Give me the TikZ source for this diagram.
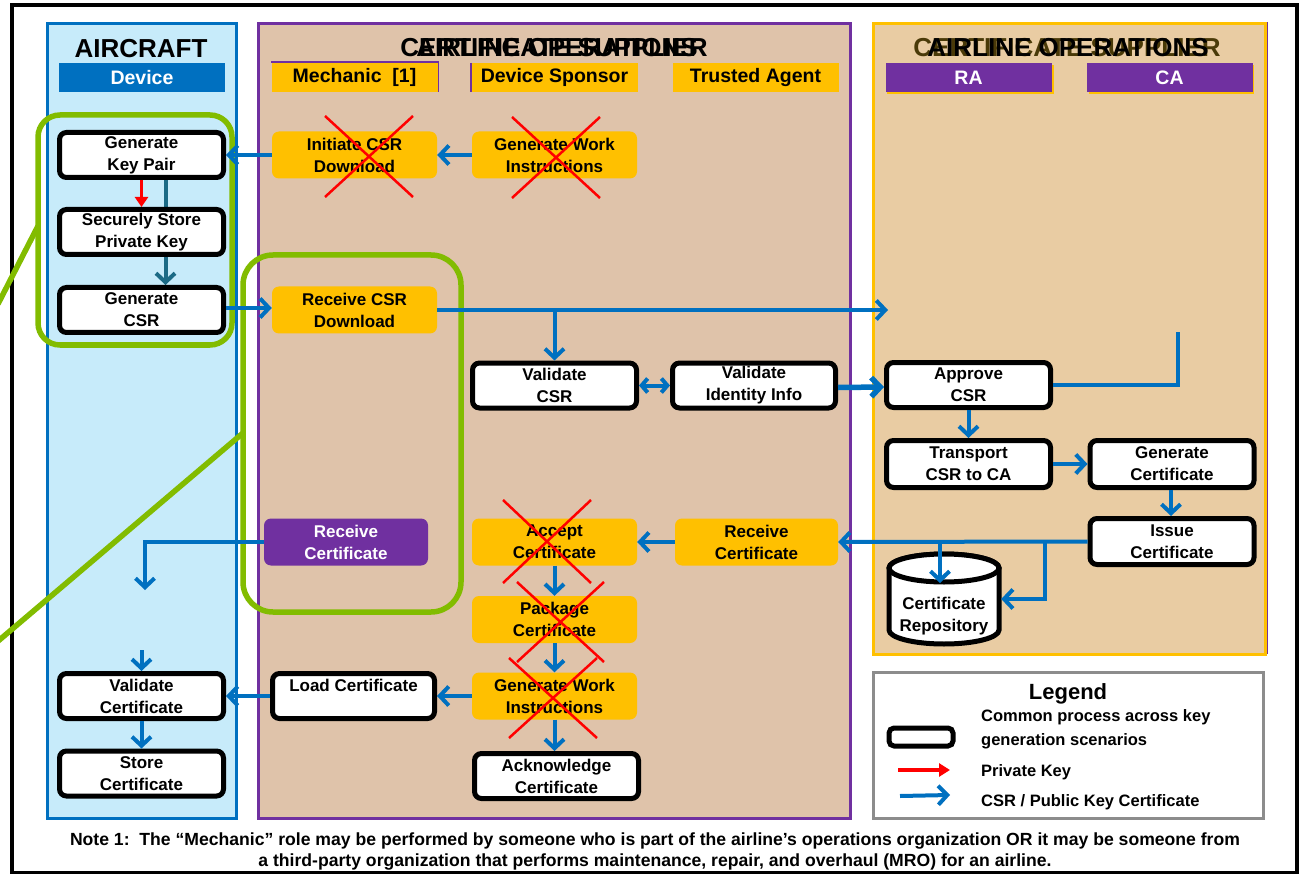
\documentclass[tikz,border=0pt]{standalone}
\usepackage{fontspec}
\setmainfont{Liberation Sans}
\usetikzlibrary{arrows.meta,shapes.geometric}
\pgfdeclarelayer{bg}
\pgfsetlayers{bg,main}
\definecolor{acfill}{HTML}{C7EBFA}
\definecolor{acblue}{HTML}{0070C0}
\definecolor{csfill}{HTML}{DFC3AA}
\definecolor{purp}{HTML}{7030A0}
\definecolor{aofill}{HTML}{E9CCA3}
\definecolor{gold}{HTML}{FFC000}
\definecolor{grn}{HTML}{82BC00}
\definecolor{tealc}{HTML}{1B6A85}
\definecolor{olive}{HTML}{4A3A08}
\definecolor{lgray}{HTML}{8C8C8C}
\tikzset{
  nf/.style={font=\bfseries\fontsize{17}{22}\selectfont},
  proc/.style={nf, draw=black, line width=5pt, fill=white, rounded corners=7pt,
    minimum width=164pt, minimum height=45pt, align=center, inner sep=0pt},
  obox/.style={nf, fill=gold, rounded corners=7pt, minimum width=165pt,
    minimum height=47pt, align=center, inner sep=0pt},
  pbox/.style={obox, fill=purp, text=white},
  rolebar/.style={font=\bfseries\fontsize{19.5}{22}\selectfont, fill=gold,
    minimum width=166pt, minimum height=29pt, inner sep=0pt},
  headtxt/.style={font=\bfseries\fontsize{26}{30}\selectfont, inner sep=0pt},
  barrow/.style={draw=acblue, line width=4pt, -{Straight Barb[length=9pt,width=19pt]}},
  bline/.style={draw=acblue, line width=4pt},
  rx/.style={draw=red, line width=2.5pt},
  grect/.style={draw=grn, line width=5.5pt},
  legtxt/.style={font=\bfseries\fontsize{16.5}{20}\selectfont, anchor=west, inner sep=0pt},
  notetxt/.style={font=\bfseries\fontsize{17.6}{21}\selectfont, inner sep=0pt},
}
\begin{document}
\begin{tikzpicture}[x=1pt,y=-1pt]
\useasboundingbox (0,0) rectangle (1303,874);
\begin{pgfonlayer}{bg}
  \fill[white] (0,0) rectangle (1303,874);
  \draw[line width=4pt] (12,5) rectangle (1297,873);
  % panels
  \draw[acblue, fill=acfill, line width=3pt] (47,24) rectangle (236,818);
  \draw[purp, fill=csfill, line width=3pt] (258,24) rectangle (850,818);
  \draw[purp, line width=1pt] (873,22.5) rectangle (1267,653);
  \draw[gold, fill=aofill, line width=3pt] (873,24) rectangle (1265,654);
\end{pgfonlayer}

% headers
\node[headtxt] (hac) at (141,49) {AIRCRAFT};
\node[headtxt] (hcs1) at (554,48) {CERTIFICATE SUPPLIER};
\node[headtxt] (hao1) at (557,48) {AIRLINE OPERATIONS};
\node[headtxt, text=olive] (hcs2) at (1067,48) {CERTIFICATE SUPPLIER};
\node[headtxt] (hao2) at (1068,48) {AIRLINE OPERATIONS};

% role bars
\node[rolebar, fill=acblue, text=white] (rdev) at (142,77.5) {Device};
\draw[purp, line width=1.2pt] (271,62) -- (438,62) -- (438,92);
\node[rolebar] (rmech) at (354.5,77.5) {Mechanic\ \ [1]};
\draw[purp, line width=1.2pt] (471,63) -- (471,92);
\node[rolebar] (rds) at (554.5,77.5) {Device Sponsor};
\node[rolebar] (rta) at (755.5,77.5) {Trusted Agent};
\fill[gold] (887,65) rectangle (1054,94);
\node[rolebar, fill=purp, text=white] (rra) at (968.5,77.5) {RA};
\fill[gold] (1089,65) rectangle (1254,94);
\node[rolebar, fill=purp, text=white] (rca) at (1169.5,77.5) {CA};

% green highlight shapes
\draw[grect, rounded corners=22pt] (38,115) rectangle (232,345);
\draw[grect, rounded corners=30pt] (243,255) rectangle (461,612);
\draw[grect] (-2,304) -- (38,226);
\draw[grect] (243,433) -- (-3,642);

% aircraft nodes
\node[proc] (gkp) at (141.5,155) {Generate\\Key Pair};
\node[proc] (ssp) at (141.5,232) {Securely Store\\Private Key};
\node[proc] (gcsr) at (141.5,310) {Generate\\CSR};
\node[proc] (vcert) at (141.5,696) {Validate\\Certificate};
\node[proc] (scert) at (141.5,773.5) {Store\\Certificate};

% mechanic nodes
\node[obox] (icsr) at (354.5,155) {Initiate CSR\\Download};
\node[obox] (rcsr) at (354.5,310) {Receive CSR\\Download};
\node[pbox, minimum width=164pt] (rcertp) at (346,542) {Receive\\Certificate};
\node[proc, minimum width=162pt] (lcert) at (353.5,696) {Load Certificate\\\mbox{}};

% device sponsor nodes
\node[obox] (gwi1) at (554.5,155) {Generate Work\\Instructions};
\node[proc] (vcsr) at (554.5,385.5) {Validate\\CSR};
\node[obox] (acc) at (554.5,542) {Accept\\Certificate};
\node[obox] (pkg) at (554.5,619.5) {Package\\Certificate};
\node[obox] (gwi2) at (554.5,696) {Generate Work\\Instructions};
\node[proc] (ack) at (556.5,776) {Acknowledge\\Certificate};

% trusted agent nodes
\node[proc, minimum width=163pt] (vid) at (754,385.5) {Validate\\Identity Info};
\node[obox, minimum width=163pt] (rcerto) at (756.5,542) {Receive\\Certificate};

% RA / CA nodes
\node[proc] (apcsr) at (968.5,385) {Approve\\CSR};
\node[proc, minimum height=47pt] (tcsr) at (968.5,464) {Transport\\CSR to CA};
\node[proc, minimum height=47pt] (gcert) at (1172,464) {Generate\\Certificate};
\node[proc, minimum height=46pt] (icert) at (1172,541.5) {Issue\\Certificate};
% certificate repository (cylinder)
\node[minimum width=114pt, minimum height=92pt, inner sep=0pt] (repo) at (944,599) {};
\draw[line width=5pt, fill=white] (889,568) -- (889,630)
  arc[start angle=180, end angle=0, x radius=55, y radius=14] -- (999,568)
  arc[start angle=0, end angle=-180, x radius=55, y radius=14] -- cycle;
\draw[line width=5pt, fill=white] (944,568) ellipse [x radius=55, y radius=14];
\node[nf, align=center, inner sep=0pt] (repotxt) at (944,616) {Certificate\\Repository};

% connectors
\begin{pgfonlayer}{bg}
  \draw[tealc, line width=4pt, -{Straight Barb[length=9pt,width=19pt]}]
    ([xshift=24pt]gkp.south) -- ([xshift=24pt]gcsr.north);
\end{pgfonlayer}
\draw[red, line width=3.5pt, -{Triangle[length=10pt,width=13pt]}] (gkp.south) -- (ssp.north);
\draw[barrow] (icsr.west) -- (gkp.east);
\draw[barrow] (gwi1.west) -- (icsr.east);
\draw[barrow] ([yshift=2pt]gcsr.east) -- ([yshift=2pt]rcsr.west);
\coordinate (rcsrend) at (888,310);
\draw[barrow] (rcsr.east) -- (rcsrend);
\draw[barrow] (rcsr.east -| vcsr.north) -- (vcsr.north);
\draw[draw=acblue, line width=4pt, {Straight Barb[length=6pt,width=14pt]}-{Straight Barb[length=6pt,width=14pt]}] (vcsr.east) -- (vid.west);
\draw[draw=acblue, line width=5.5pt, -{Straight Barb[length=9pt,width=19pt]}] ([yshift=-2pt]vid.east) -- ([yshift=-2pt]apcsr.west);
\coordinate (apend) at (1178,332);
\draw[bline] (apcsr.east) -| (apend);
\draw[barrow] (apcsr.south) -- (tcsr.north);
\draw[barrow] (tcsr.east) -- (gcert.west);
\draw[barrow] ([xshift=-1pt]gcert.south) -- ([xshift=-1pt]icert.north);
\draw[barrow] (icert.west) -- (rcerto.east);
\coordinate (repotop) at (940,583);
\draw[barrow] (repotop |- icert.west) -- (repotop);
\draw[barrow] ([xshift=-43pt]icert.west) |- (repo.east);
\draw[barrow] (rcerto.west) -- (acc.east);
\draw[barrow] (acc.south) -- (pkg.north);
\draw[barrow] (pkg.south) -- (gwi2.north);
\draw[barrow] (gwi2.south) -- (gwi2.south |- ack.north);
\draw[barrow] (gwi2.west) -- (lcert.east);
\draw[barrow] (lcert.west) -- (vcert.east);
\coordinate (rcpend) at (145,590);
\draw[barrow] (rcertp.west) -| (rcpend);
\coordinate (vcstart) at (141.5,650);
\draw[barrow] (vcstart) -- (vcert.north);
\draw[barrow] (vcert.south) -- (scert.north);

% red crosses
\draw[rx] (325,116) -- (413,197) (413,116) -- (325,197);
\draw[rx] (512,117) -- (600,198) (600,117) -- (512,198);
\draw[rx] (503,500) -- (591,583) (591,500) -- (503,583);
\draw[rx] (517,582) -- (604,662) (604,582) -- (517,662);
\draw[rx] (509,658) -- (597,738) (597,658) -- (509,738);

% legend
\draw[lgray, fill=white, line width=3pt] (873,672) rectangle (1263,818);
\node[font=\bfseries\fontsize{22}{24}\selectfont, inner sep=0pt] (lgt) at (1068,694) {Legend};
\node[draw, line width=5pt, fill=white, rounded corners=5pt, minimum width=64pt, minimum height=18pt, inner sep=0pt] (lgbox) at (921,737) {};
\node[legtxt] (lg1) at (981,717) {Common process across key};
\node[legtxt] (lg2) at (981,741) {generation scenarios};
\coordinate (lr1) at (898,770); \coordinate (lr2) at (950,770);
\draw[red, line width=3.5pt, -{Triangle[length=11pt,width=13pt]}] (lr1) -- (lr2);
\node[legtxt] (lg3) at (981,772) {Private Key};
\coordinate (lb1) at (900,796); \coordinate (lb2) at (950,795);
\draw[barrow] (lb1) -- (lb2);
\node[legtxt] (lg4) at (981,802) {CSR / Public Key Certificate};

% note
\node[notetxt] (note1) at (655,841) {Note 1:\ \ The “Mechanic” role may be performed by someone who is part of the airline’s operations organization OR it may be someone from};
\node[notetxt] (note2) at (655,862) {a third-party organization that performs maintenance, repair, and overhaul (MRO) for an airline.};
\end{tikzpicture}
\end{document}
